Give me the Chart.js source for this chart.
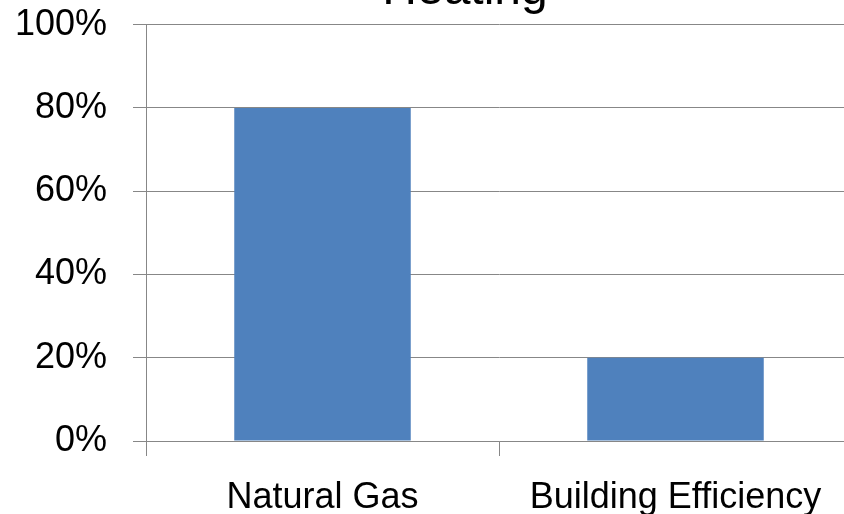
<!DOCTYPE html>
<html>
<head>
<meta charset="utf-8">
<script src="https://cdn.jsdelivr.net/npm/chart.js@4/dist/chart.umd.min.js"></script>
<style>
  html, body { margin: 0; padding: 0; background: #fff; }
  body { width: 844px; height: 514px; overflow: hidden; position: relative; }
  #heatingChart { position: absolute; left: 0; top: -45px; }
</style>
</head>
<body>
<canvas id="heatingChart" width="936" height="565"></canvas>
<script>
const chartTitle = "Heating";
const categories = ["Natural Gas", "Building Efficiency"];
const shares = [80, 20];
const yTicks = [0, 20, 40, 60, 80, 100];

const gridColor = "#878787";
const labelFont = { family: "'Liberation Sans', Arial, sans-serif", size: 36 };

// title in the original is centred on the whole chart, not on the plot
const centreTitle = {
    id: "centreTitle",
    afterLayout(chart) {
        const t = chart.titleBlock;
        if (!t) return;
        t.left = 0;
        t.right = 930;
        t.width = 930;
    }
};

const ctx = document.getElementById("heatingChart").getContext("2d");

new Chart(ctx, {
    type: "bar",
    data: {
        labels: categories,
        datasets: [{
            label: chartTitle,
            data: shares,
            backgroundColor: "#4F81BD",
            borderWidth: 0,
            categoryPercentage: 1.0,
            barPercentage: 0.5
        }]
    },
    options: {
        responsive: false,
        animation: false,
        devicePixelRatio: 1,
        layout: { padding: { left: 0, right: 84, top: 0, bottom: 0 } },
        plugins: {
            legend: { display: false },
            tooltip: { enabled: false },
            title: {
                display: true,
                text: chartTitle,
                color: "#000",
                font: { family: labelFont.family, size: 48, weight: "normal" },
                padding: { top: 7, bottom: 5 }
            }
        },
        scales: {
            y: {
                min: yTicks[0],
                max: yTicks[yTicks.length - 1],
                afterFit: s => { s.width = 146; },
                afterBuildTicks: s => { s.ticks = yTicks.map(v => ({ value: v })); },
                ticks: {
                    color: "#000",
                    font: labelFont,
                    padding: 26,
                    callback: v => v + "%"
                },
                grid: { color: gridColor, tickLength: 13, lineWidth: 1 },
                border: { color: gridColor }
            },
            x: {
                afterFit: s => { s.height = 79; },
                ticks: { color: "#000", font: labelFont, padding: 20, maxRotation: 0 },
                grid: { drawOnChartArea: false, offset: true, color: gridColor, tickLength: 15 },
                border: { color: gridColor }
            }
        }
    },
    plugins: [centreTitle]
});
</script>
</body>
</html>
